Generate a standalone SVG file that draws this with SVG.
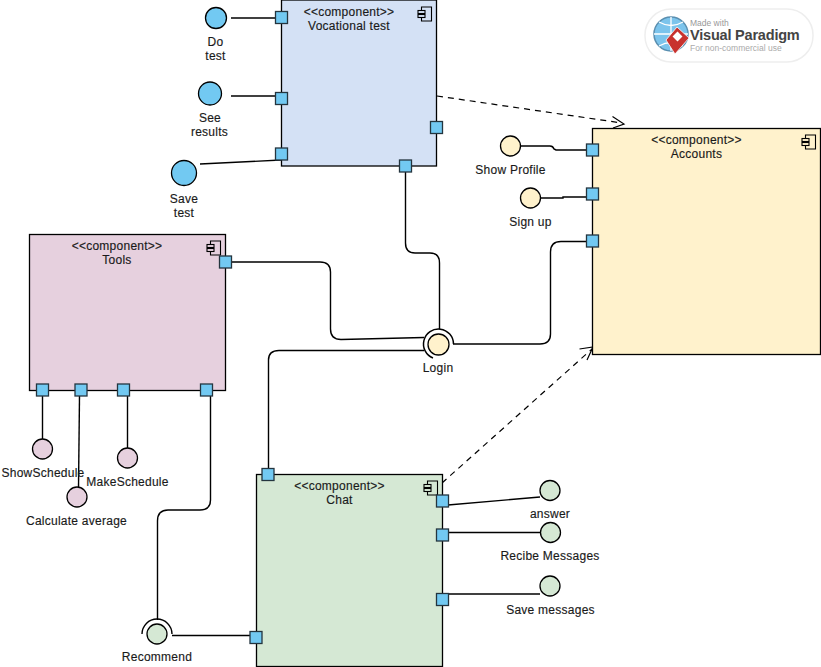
<svg xmlns="http://www.w3.org/2000/svg" width="821" height="667" viewBox="0 0 821 667">
<defs>
<style>
text{font-family:"Liberation Sans",Arial,sans-serif;font-size:12px;fill:#1a1a1a;text-anchor:middle;letter-spacing:.25px;stroke:#1a1a1a;stroke-width:.15px}
.box{stroke:#000;stroke-width:1.3}
.port{fill:#72c9f2;stroke:#24353f;stroke-width:1.3}
.c{fill:none;stroke:#000;stroke-width:1.4}
.d{fill:none;stroke:#000;stroke-width:1.2;stroke-dasharray:6 5}
.ah{fill:none;stroke:#000;stroke-width:1.2}
.i{stroke:#000;stroke-width:1.3}
.ic{fill:none;stroke:#000;stroke-width:1.1}
.blue{fill:#72c9f2}.pink{fill:#e6d0de}.yel{fill:#fff2cc}.grn{fill:#d5e8d4}
.wm{stroke:none;text-anchor:start;letter-spacing:0}
</style>
<g id="compIcon"><path class="ic" d="M-5 -3.500V-7H5V7H-5V3.500M-5 -.5V.5"/><rect class="ic" x="-8.500" y="-3.500" width="7" height="3"/><rect class="ic" x="-8.500" y="0.500" width="7" height="3"/></g>
<rect id="p" class="port" x="-6" y="-6" width="12" height="12"/>
</defs>
<rect width="821" height="667" fill="#fff"/>

<g id="connectors">
<path class="c" d="M231 18H281"/>
<path class="c" d="M231 96H281"/>
<path class="c" d="M200 164L281 160"/>
<path class="c" d="M405.500 172V243Q405.500 253 415 253H430Q439.500 253 439.500 263V329"/>
<path class="c" d="M231 262H320Q330.500 262 330.500 272V329Q330.500 339.500 341 339.500L424 337.500"/>
<path class="c" d="M424 350.500H279Q268.500 350.500 268.500 360V468"/>
<path class="c" d="M453 344H540Q550.500 344 550.500 334V252Q550.500 241.500 561 241.500H587"/>
<path class="c" d="M521 146H550Q553 146 554 149L556 150H587"/>
<path class="c" d="M541 198H563V197H587"/>
<path class="c" d="M42.500 396V439"/>
<path class="c" d="M79.500 396L78.500 488"/>
<path class="c" d="M127.500 396V449"/>
<path class="c" d="M210.500 396V500Q210.500 510 200 510H168Q157.500 510 157.500 521V620"/>
<path class="c" d="M172 635.500H250"/>
<path class="c" d="M448 505L540 497"/>
<path class="c" d="M448 532.500H540"/>
<path class="c" d="M448 594H540"/>
<path class="d" d="M437 96L622 123"/>
<path class="ah" d="M612.500 116.500L624 124L613 128"/>
<path class="d" d="M442 483L592 349"/>
<path class="ah" d="M579.500 349L593 347L587 360"/>
</g>

<g id="vocational">
<rect class="box" x="281.500" y="0" width="155" height="166" fill="#d4e1f5"/>
<use href="#compIcon" x="426.500" y="14"/>
<text x="349" y="16">&lt;&lt;component&gt;&gt;</text>
<text x="349" y="30">Vocational test</text>
<use href="#p" x="281.500" y="17.500"/><use href="#p" x="281.500" y="98.500"/><use href="#p" x="281.500" y="154"/><use href="#p" x="436.500" y="127.500"/><use href="#p" x="405.500" y="166"/>
</g>
<g id="tools">
<rect class="box" x="29.500" y="234.500" width="196" height="156" fill="#e6d0de"/>
<use href="#compIcon" x="215.500" y="248"/>
<text x="117" y="250">&lt;&lt;component&gt;&gt;</text>
<text x="117" y="264">Tools</text>
<use href="#p" x="225.500" y="262"/><use href="#p" x="42.500" y="390"/><use href="#p" x="81" y="390"/><use href="#p" x="123.500" y="390"/><use href="#p" x="206.500" y="390"/>
</g>
<g id="accounts">
<rect class="box" x="592.500" y="128.500" width="228" height="226" fill="#fff2cc"/>
<use href="#compIcon" x="810.500" y="142"/>
<text x="696.500" y="144">&lt;&lt;component&gt;&gt;</text>
<text x="696.500" y="158">Accounts</text>
<use href="#p" x="592.500" y="150"/><use href="#p" x="592.500" y="194"/><use href="#p" x="592.500" y="241"/>
</g>
<g id="chat">
<rect class="box" x="256.500" y="474.500" width="186" height="192" fill="#d5e8d4"/>
<use href="#compIcon" x="432.500" y="488"/>
<text x="339.500" y="490">&lt;&lt;component&gt;&gt;</text>
<text x="339.500" y="504">Chat</text>
<use href="#p" x="268" y="474.500"/><use href="#p" x="442.500" y="501"/><use href="#p" x="442.500" y="535"/><use href="#p" x="442.500" y="599.500"/><use href="#p" x="256" y="637.500"/>
</g>

<g id="do-test"><circle class="i blue" cx="216" cy="18" r="10.500"/><text x="215.500" y="46">Do</text><text x="215.500" y="60">test</text></g>
<g id="see-results"><circle class="i blue" cx="210" cy="93.500" r="11.500"/><text x="210" y="122">See</text><text x="209.500" y="136">results</text></g>
<g id="save-test"><circle class="i blue" cx="184" cy="173" r="12.500"/><text x="184" y="203">Save</text><text x="184" y="217">test</text></g>
<g id="show-profile"><circle class="i yel" cx="510.500" cy="146" r="10"/><text x="510.500" y="174">Show Profile</text></g>
<g id="sign-up"><circle class="i yel" cx="530.500" cy="198" r="10"/><text x="530.500" y="226">Sign up</text></g>
<g id="login"><path class="ic" style="stroke-width:1.5" d="M433 358A15 15 0 1 1 453.500 344"/><circle class="i yel" cx="438.500" cy="344.500" r="10.500"/><text x="438" y="372">Login</text></g>
<g id="show-schedule"><circle class="i pink" cx="42.500" cy="449" r="10"/><text x="43" y="477">ShowSchedule</text></g>
<g id="calculate-average"><circle class="i pink" cx="77" cy="497" r="10"/><text x="76.500" y="525">Calculate average</text></g>
<g id="make-schedule"><circle class="i pink" cx="127.500" cy="458" r="10"/><text x="127.500" y="486">MakeSchedule</text></g>
<g id="recommend"><path class="ic" style="stroke-width:1.4" d="M142 634A15 15 0 0 1 172 634"/><circle class="i grn" cx="157" cy="634" r="10"/><text x="157" y="661">Recommend</text></g>
<g id="answer"><circle class="i grn" cx="550" cy="490.500" r="10"/><text x="550" y="518">answer</text></g>
<g id="recibe-messages"><circle class="i grn" cx="550.500" cy="532.500" r="10"/><text x="550" y="560">Recibe Messages</text></g>
<g id="save-messages"><circle class="i grn" cx="550" cy="586" r="10"/><text x="550.500" y="614">Save messages</text></g>

<g id="watermark">
<rect x="645" y="9" width="168" height="53" rx="26" fill="#fff" stroke="#eee" stroke-width="1.500"/>
<circle cx="671" cy="34" r="17" fill="#7cc4ec" stroke="#5a8fb0" stroke-width="1.500"/>
<path d="M654 34H688M671 17V51M659 22Q671 29 683 22M659 46Q671 39 683 46" fill="none" stroke="#fff" stroke-width="1.300"/>
<path d="M666 40L677 27L689 38L675 54Z" fill="#c8322e" stroke="#fff" stroke-width=".8"/>
<rect x="674" y="33" width="7" height="7" fill="#fff" transform="rotate(45 677.500 36.500)"/>
<text class="wm" x="690" y="26" style="font-size:8.500px;fill:#999;stroke:none;text-anchor:start;letter-spacing:0">Made with</text>
<text class="wm" x="690" y="40" style="font-size:14.500px;font-weight:bold;fill:#444;stroke:none;text-anchor:start;letter-spacing:-.2px">Visual Paradigm</text>
<text class="wm" x="690" y="51" style="font-size:8.500px;fill:#aaa;stroke:none;text-anchor:start;letter-spacing:0">For non-commercial use</text>
</g>
</svg>
